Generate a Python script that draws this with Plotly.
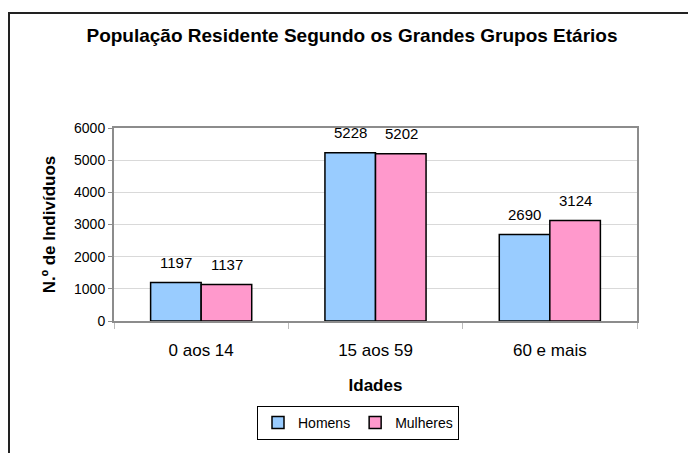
import plotly.graph_objects as go

idades = ["0 aos 14", "15 aos 59", "60 e mais"]
homens = [1197, 5228, 2690]
mulheres = [1137, 5202, 3124]

FONT = "Liberation Sans, Arial, sans-serif"

fig = go.Figure()
fig.add_trace(go.Bar(
    x=idades, y=homens, name="Homens",
    marker=dict(color="#99CCFF", line=dict(color="black", width=1.5)),
))
fig.add_trace(go.Bar(
    x=idades, y=mulheres, name="Mulheres",
    marker=dict(color="#FF99CC", line=dict(color="black", width=1.5)),
))

# value labels above each bar
for serie, shift in ((homens, -25.5), (mulheres, 25.5)):
    for cat, val in zip(idades, serie):
        fig.add_annotation(
            x=cat, y=val, text=str(val), showarrow=False,
            xshift=shift, yshift=20, yanchor="middle",
            font=dict(family=FONT, size=15, color="black"),
        )

# outer chart border (page body adds 8px offset)
fig.add_shape(
    type="rect", xref="paper", yref="paper",
    x0=(1 - 106) / 523, x1=(720 - 106) / 523,
    y0=(313 - 480) / 193, y1=(313 - 5) / 193,
    line=dict(color="#222222", width=2), layer="below",
)

fig.update_layout(
    width=696, height=453,
    margin=dict(l=106, r=67, t=120, b=140),
    paper_bgcolor="white", plot_bgcolor="white",
    font=dict(family=FONT, size=13, color="black"),
    title=dict(
        text="<b>População Residente Segundo os Grandes Grupos Etários</b>",
        x=344 / 696, xanchor="center", xref="container",
        y=1 - 27 / 453, yanchor="middle", yref="container",
        font=dict(family=FONT, size=19, color="black"),
    ),
    barmode="group", bargap=0.42, bargroupgap=0,
    showlegend=True,
    legend=dict(
        orientation="h", x=(350 - 106) / 523, xanchor="center",
        y=(313 - 398) / 193, yanchor="top",
        bordercolor="black", borderwidth=1,
        font=dict(family=FONT, size=14, color="black"),
        itemwidth=30, tracegroupgap=0,
    ),
    xaxis=dict(
        title=dict(text="<b>Idades</b>", standoff=20,
                   font=dict(family=FONT, size=17)),
        tickfont=dict(family=FONT, size=17),
        showline=True, linecolor="#8c8c8c", linewidth=2, mirror=True,
        ticks="outside", tickson="boundaries", ticklen=6, tickcolor="#bbbbbb",
        ticklabelstandoff=13,
    ),
    yaxis=dict(
        title=dict(text="<b>N.º de Indivíduos</b>", standoff=14,
                   font=dict(family=FONT, size=17)),
        range=[0, 6000], dtick=1000,
        tickfont=dict(family=FONT, size=14),
        showline=True, linecolor="#8c8c8c", linewidth=2, mirror=True,
        ticks="outside", ticklen=4, tickcolor="#8c8c8c",
        showgrid=True, gridcolor="#d9d9d9", gridwidth=1,
        zeroline=False,
    ),
)

fig.write_html("out.html")
